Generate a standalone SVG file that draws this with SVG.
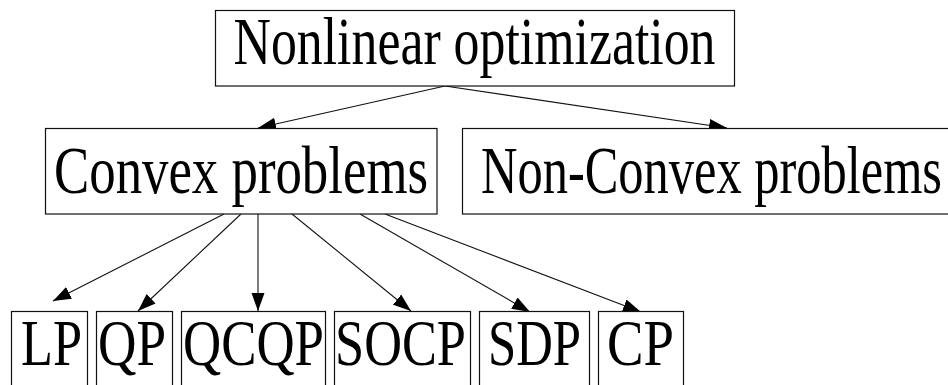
<svg xmlns="http://www.w3.org/2000/svg" width="948" height="385" viewBox="0 0 948 385">
<style>
.box{fill:#fff;stroke:#111;stroke-width:1.2}
.lbl{font-family:"Liberation Serif","DejaVu Serif",serif;fill:#000;text-anchor:middle;font-size:52px}
.edge{stroke:#111;stroke-width:1.1;fill:none;marker-end:url(#ah)}
</style>
<defs>
<marker id="ah" markerUnits="userSpaceOnUse" markerWidth="20" markerHeight="14" refX="18" refY="7" orient="auto">
<path d="M0,0.5 L18,7 L0,13.5 Z" fill="#000"/>
</marker>
</defs>
<rect width="948" height="385" fill="#fff"/>
<g id="connectors">
<line class="edge" x1="445" y1="86" x2="258" y2="128"/>
<line class="edge" x1="445" y1="86" x2="727" y2="128"/>
<line class="edge" x1="224" y1="214" x2="53" y2="301"/>
<line class="edge" x1="241" y1="214" x2="138" y2="311"/>
<line class="edge" x1="258" y1="214" x2="258" y2="311"/>
<line class="edge" x1="292" y1="214" x2="411" y2="311"/>
<line class="edge" x1="360" y1="214" x2="530" y2="312"/>
<line class="edge" x1="385" y1="214" x2="641" y2="312"/>
</g>
<g id="nonlinear">
<rect class="box" x="215.5" y="10.5" width="519" height="75.5"/>
<text class="lbl" transform="translate(474.5,64) scale(1,1.308)" textLength="482" lengthAdjust="spacingAndGlyphs">Nonlinear optimization</text>
</g>
<g id="convex">
<rect class="box" x="45.5" y="128.5" width="391.5" height="85.5"/>
<text class="lbl" transform="translate(241,193) scale(1,1.308)" textLength="374" lengthAdjust="spacingAndGlyphs">Convex problems</text>
</g>
<g id="nonconvex">
<rect class="box" x="462.5" y="128.5" width="500" height="85.5"/>
<text class="lbl" transform="translate(711.5,193) scale(1,1.308)" textLength="461" lengthAdjust="spacingAndGlyphs">Non-Convex problems</text>
</g>
<g id="lp">
<rect class="box" x="11.5" y="311.5" width="76" height="90"/>
<text class="lbl" transform="translate(51.5,365) scale(1,1.27)" textLength="61" lengthAdjust="spacingAndGlyphs">LP</text>
</g>
<g id="qp">
<rect class="box" x="96.5" y="311.5" width="76" height="90"/>
<text class="lbl" transform="translate(132,365) scale(1,1.27)" textLength="68" lengthAdjust="spacingAndGlyphs">QP</text>
</g>
<g id="qcqp">
<rect class="box" x="181.5" y="311.5" width="144" height="90"/>
<text class="lbl" transform="translate(253.5,365) scale(1,1.27)" textLength="141" lengthAdjust="spacingAndGlyphs">QCQP</text>
</g>
<g id="socp">
<rect class="box" x="334.5" y="311.5" width="136" height="90"/>
<text class="lbl" transform="translate(400.5,365) scale(1,1.27)" textLength="131" lengthAdjust="spacingAndGlyphs">SOCP</text>
</g>
<g id="sdp">
<rect class="box" x="479.5" y="311.5" width="110" height="90"/>
<text class="lbl" transform="translate(534.5,365) scale(1,1.27)" textLength="93" lengthAdjust="spacingAndGlyphs">SDP</text>
</g>
<g id="cp">
<rect class="box" x="598.5" y="311.5" width="85" height="90"/>
<text class="lbl" transform="translate(640.5,365) scale(1,1.27)" textLength="67" lengthAdjust="spacingAndGlyphs">CP</text>
</g>
</svg>
